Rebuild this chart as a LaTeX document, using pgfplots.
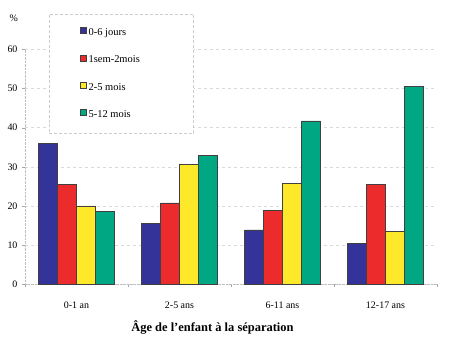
\documentclass[border=0pt]{standalone}
\usepackage{pgfplots}
\pgfplotsset{compat=1.18}
\usepackage{fontspec}
\setmainfont{Liberation Serif}
\definecolor{cBlue}{HTML}{333399}
\definecolor{cRed}{HTML}{EC2C2C}
\definecolor{cYel}{HTML}{FDE92A}
\definecolor{cTeal}{HTML}{00A783}
\begin{document}
\begin{tikzpicture}
\path[use as bounding box] (-25bp,-56.7bp) rectangle (425bp,284.3bp);
\begin{axis}[
  at={(0,0)}, anchor=south west,
  scale only axis, width=412bp, height=235bp, clip=false,
  ybar=0pt, bar width=19bp,
  xmin=-0.5, xmax=3.5, ymin=0, ymax=60,
  xtick={0,1,2,3}, xticklabels={0-1 an,2-5 ans,6-11 ans,12-17 ans},
  minor xtick={-0.5,0.5,1.5,2.5,3.5},
  ytick={0,10,...,60},
  axis x line*=bottom, axis y line*=left,
  axis line style={black!25, densely dotted, -},
  tick style={black!35, solid},
  major x tick style={draw=none},
  tick align=outside, major tick length=3bp, minor tick length=3bp,
  ymajorgrids, grid style={black!15, dashed},
  tick label style={font=\fontsize{10}{12}\selectfont},
  /pgf/number format/assume math mode=true,
  xticklabel style={yshift=-11bp},
  yticklabel style={xshift=-1bp},
  xlabel={\textbf{Âge de l'enfant à la séparation}},
  xlabel style={font=\fontsize{12.5}{14}\selectfont, at={(rel axis cs:0.455,0)}, anchor=north, yshift=-33bp},
  legend cell align=left,
  legend image code/.code={\draw[#1, solid, line width=0.6pt] (0bp,-1bp) rectangle (6bp,5bp);},
  legend style={at={(rel axis cs:0.058,1.15)}, anchor=north west,
    draw=black!20, densely dashed, fill=white,
    inner xsep=31bp, inner ysep=12bp, row sep=15bp,
    font=\fontsize{10.5}{12}\selectfont},
]
\addplot[fill=cBlue, draw=black!75, line width=0.6pt] coordinates {(0,36.0)(1,15.6)(2,13.9)(3,10.4)};
\addlegendentry{\makebox[72bp][l]{0-6 jours}}
\addplot[fill=cRed, draw=black!75, line width=0.6pt] coordinates {(0,25.5)(1,20.8)(2,18.9)(3,25.5)};
\addlegendentry{\makebox[72bp][l]{1sem-2mois}}
\addplot[fill=cYel, draw=black!75, line width=0.6pt] coordinates {(0,20.0)(1,30.7)(2,25.8)(3,13.6)};
\addlegendentry{\makebox[72bp][l]{2-5 mois}}
\addplot[fill=cTeal, draw=black!75, line width=0.6pt] coordinates {(0,18.6)(1,33.0)(2,41.7)(3,50.6)};
\addlegendentry{\makebox[72bp][l]{5-12 mois}}
\node[font=\fontsize{10}{12}\selectfont, anchor=center] at (rel axis cs:-0.027,1.13) {\%};
\end{axis}
\end{tikzpicture}
\end{document}
